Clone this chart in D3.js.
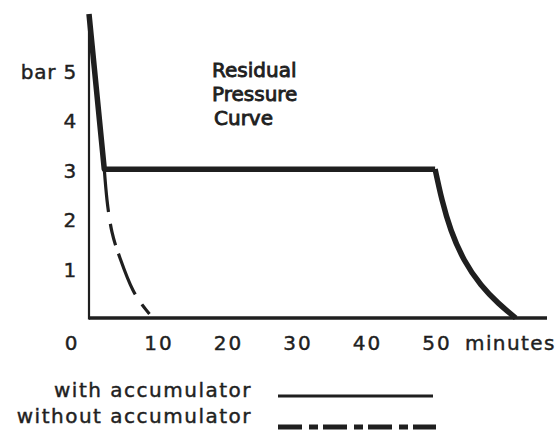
<!DOCTYPE html>
<html><head><meta charset="utf-8">
<script src="https://cdn.jsdelivr.net/npm/d3@7"></script>
<style>body{margin:0;background:#fff} svg{display:block}</style>
</head><body><svg id="c" width="560" height="432"></svg>
<script>
// ---- data ----
const withAccMinutes = [0, 2.2, 49.8, 50.8, 52.1, 54.0, 56.4, 58.9, 61.4];
const withAccBar     = [6.13, 3.0, 3.0, 2.38, 1.77, 1.17, 0.67, 0.30, 0];
const withoutAccMinutes = [2.2, 2.59, 3.31, 4.46, 6.33, 8.7];
const withoutAccBar     = [3.0, 2.38, 1.73, 1.21, 0.56, 0.08];
const xTicks = [10, 20, 30, 40, 50];
const yTicks = [1, 2, 3, 4, 5];
const yTickLabels = ["1", "2", "3", "4", "bar 5"];
const originLabel = "0";
const xUnit = "minutes";
const titleLines = ["Residual", "Pressure", "Curve"];
const legendLabels = ["with accumulator", "without accumulator"];

const ink = "#1f1f1f";
const svg = d3.select("#c");
const x = d3.scaleLinear().domain([0, 50]).range([89, 436.5]);
const y = d3.scaleLinear().domain([0, 5]).range([318, 70]);
const font = "'DejaVu Sans', sans-serif";
const txt = sel => sel.attr("fill", ink).attr("stroke", ink).attr("stroke-width", 0.45)
  .style("font-family", font).style("font-size", "20px");

// axes lines
svg.append("line").attr("x1", x(0)).attr("x2", x(65.9)).attr("y1", y(0)).attr("y2", y(0))
  .attr("stroke", ink).attr("stroke-width", 3.5);
svg.append("line").attr("x1", x(0)).attr("x2", x(0)).attr("y1", y(0) + 1.5).attr("y2", y(6.1))
  .attr("stroke", ink).attr("stroke-width", 2.2);

// x tick labels
const gx = svg.append("g").attr("transform", `translate(0,${y(0)})`)
  .call(d3.axisBottom(x).tickValues(xTicks).tickSize(0).tickPadding(18).tickFormat(d3.format("d")));
gx.select(".domain").remove();
gx.selectAll("text").call(txt).style("letter-spacing", "2px");

// y tick labels
const gy = svg.append("g").attr("transform", `translate(${x(0)},0)`)
  .call(d3.axisLeft(y).tickValues(yTicks).tickSize(0).tickPadding(12)
    .tickFormat((d, i) => yTickLabels[i]));
gy.select(".domain").remove();
gy.selectAll("text").call(txt).attr("dy", "0.4em").style("letter-spacing", "0.8px");

// origin and unit labels
svg.append("text").attr("x", 71).attr("y", 350).attr("text-anchor", "middle").call(txt).text(originLabel);
svg.append("text").attr("x", 465).attr("y", 350).call(txt).style("letter-spacing", "1.4px").text(xUnit);

// title
svg.append("g").selectAll("text").data(titleLines).join("text")
  .attr("x", (d, i) => i === 2 ? 214 : 212).attr("y", (d, i) => 77 + i * 24)
  .call(txt).attr("stroke-width", 0.9).text(d => d);

// with accumulator curve
const withPts = withAccMinutes.map((m, i) => [m, withAccBar[i]]);
const lin = d3.line().x(d => x(d[0])).y(d => y(d[1]));
const smooth = d3.line().x(d => x(d[0])).y(d => y(d[1])).curve(d3.curveNatural);
svg.append("path").attr("d", lin(withPts.slice(0, 3)) + smooth(withPts.slice(2)))
  .attr("fill", "none").attr("stroke", ink).attr("stroke-width", 5.5)
  .attr("stroke-linejoin", "round").attr("stroke-linecap", "butt");

// without accumulator curve
const woPts = withoutAccMinutes.map((m, i) => [m, withoutAccBar[i]]);
svg.append("path").attr("d", smooth(woPts))
  .attr("fill", "none").attr("stroke", ink).attr("stroke-width", 3.2)
  .attr("stroke-dasharray", "43,12,22,9,44,12,40");

// legend
const lg = svg.append("g");
lg.selectAll("text").data(legendLabels).join("text")
  .attr("x", 252).attr("y", (d, i) => 397 + i * 26).attr("text-anchor", "end")
  .call(txt).style("letter-spacing", "1.5px").text(d => d);
lg.append("line").attr("x1", 278).attr("x2", 433).attr("y1", 396).attr("y2", 396)
  .attr("stroke", ink).attr("stroke-width", 3);
lg.append("line").attr("x1", 278).attr("x2", 436).attr("y1", 427).attr("y2", 427)
  .attr("stroke", ink).attr("stroke-width", 5).attr("stroke-dasharray", "24,7,9,5");
</script></body></html>
